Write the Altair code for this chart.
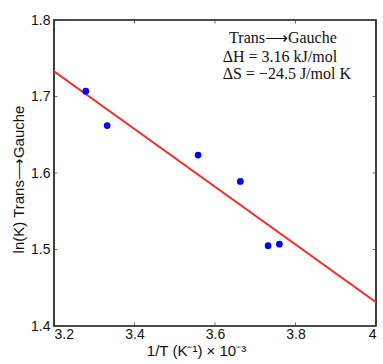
import altair as alt
import pandas as pd

# measured points
inv_t = [3.279, 3.332, 3.558, 3.663, 3.732, 3.760]
ln_k = [1.707, 1.662, 1.6235, 1.589, 1.505, 1.507]

# fitted line endpoints
fit_x = [3.2, 4.0]
fit_y = [1.733, 1.431]

x_ticks = [3.2, 3.4, 3.6, 3.8, 4.0]
y_ticks = [1.4, 1.5, 1.6, 1.7, 1.8]

note_lines = ["Trans\u27f6Gauche", "\u0394H = 3.16 kJ/mol", "\u0394S = \u221224.5 J/mol K"]
note_x = [3.635, 3.619, 3.619]
note_y = [1.770, 1.7445, 1.7225]

pts = pd.DataFrame({"x": inv_t, "y": ln_k})
fit = pd.DataFrame({"x": fit_x, "y": fit_y})
xt = pd.DataFrame({"v": x_ticks})
yt = pd.DataFrame({"v": y_ticks})
notes = pd.DataFrame({"t": note_lines, "x": note_x, "y": note_y})

xscale = alt.Scale(domain=[3.2, 4.0], nice=False, zero=False)
yscale = alt.Scale(domain=[1.4, 1.8], nice=False, zero=False)

xaxis = alt.Axis(
    values=x_ticks, format="~g", ticks=False, domain=False, grid=False,
    labelFont="Liberation Sans", labelFontSize=14, labelColor="#111", labelPadding=1,
    title="1/T (K\u207b\u00b9) \u00d7 10\u207b\u00b3", titleFont="Liberation Sans",
    titleFontSize=15, titleFontWeight="normal", titleColor="#111",
    titleX=142, titleY=29, titleBaseline="alphabetic",
)
yaxis = alt.Axis(
    values=y_ticks, format="~g", ticks=False, domain=False, grid=False,
    labelFont="Liberation Sans", labelFontSize=14, labelColor="#111", labelPadding=4,
    title="ln(K) Trans\u27f6Gauche", titleFont="Liberation Sans",
    titleFontSize=15, titleFontWeight="normal", titleColor="#111",
    titleX=-36, titleY=159, titleBaseline="middle", titleAngle=-90,
)

line = alt.Chart(fit).mark_line(color="#e8312f", strokeWidth=2, clip=True).encode(
    x=alt.X("x:Q", scale=xscale, axis=xaxis),
    y=alt.Y("y:Q", scale=yscale, axis=yaxis),
)
dots = alt.Chart(pts).mark_point(filled=True, shape="circle", size=45, color="#0000ff", opacity=1).encode(
    x=alt.X("x:Q", scale=xscale),
    y=alt.Y("y:Q", scale=yscale),
)
text = alt.Chart(notes).mark_text(
    font="Liberation Serif", fontSize=16, align="left", baseline="alphabetic", color="#111"
).encode(
    x=alt.X("x:Q", scale=xscale),
    y=alt.Y("y:Q", scale=yscale),
    text="t:N",
)

def xtick(yv):
    return alt.Chart(xt).mark_tick(orient="vertical", size=7, thickness=1, color="#333", clip=True).encode(
        x=alt.X("v:Q", scale=xscale),
        y=alt.datum(yv),
    )

def ytick(xv):
    return alt.Chart(yt).mark_tick(orient="horizontal", size=7, thickness=1, color="#333", clip=True).encode(
        y=alt.Y("v:Q", scale=yscale),
        x=alt.datum(xv),
    )

chart = alt.layer(
    line, xtick(1.4), xtick(1.8), ytick(3.2), ytick(4.0), dots, text
).properties(
    width=322, height=306,
    autosize=alt.AutoSizeParams(type="none"),
    padding={"left": 54, "top": 20, "right": 7, "bottom": 38},
    background="white",
).configure_view(stroke="#111", strokeWidth=1.6)

chart.save("out.html", embed_options={"renderer": "svg", "actions": False})
